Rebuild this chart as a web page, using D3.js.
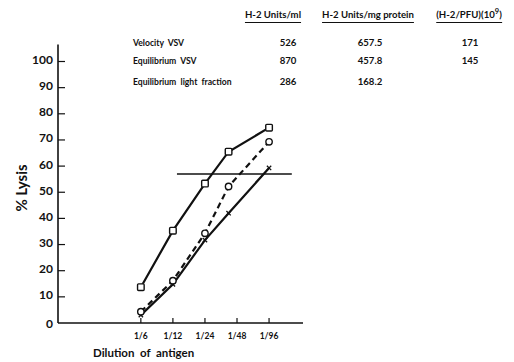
<!DOCTYPE html>
<html>
<head>
<meta charset="utf-8">
<script src="https://cdn.jsdelivr.net/npm/d3@7"></script>
<style>
  html, body { margin: 0; padding: 0; background: #fff; }
  svg { display: block; }
  text { font-family: Lato, "DejaVu Sans", sans-serif; font-weight: 700; fill: #111; }
</style>
</head>
<body>
<svg id="chart" width="514" height="362"></svg>
<script>
// Dilution denominators (antigen diluted 1/n)
const tickDilutions = [6, 12, 24, 48, 96];
const tickLabels = ["1/6", "1/12", "1/24", "1/48", "1/96"];
const pointDilutions = [6, 12, 24, 40, 96];

// % lysis for each preparation
const velocityVSV = [13.7, 35.3, 53.3, 65.5, 74.7];      // squares, solid
const equilibriumVSV = [4.3, 16.2, 34.3, 52.2, 69.3];    // circles, dashed
const lightFraction = [3.0, 14.8, 31.7, 42.0, 59.3];     // crosses, solid

const yTicks = [0, 10, 20, 30, 40, 50, 60, 70, 80, 90, 100];

// 50% lysis reference line (level, and the dilution span it covers)
const refLevel = 57;
const refSpan = [13.1, 157];

// Summary table
const tableHeaders = ["H-2 Units/ml", "H-2 Units/mg protein", "(H-2/PFU)(10"];
const tableRows = ["Velocity  VSV", "Equilibrium  VSV", "Equilibrium  light  fraction"];
const unitsPerMl = ["526", "870", "286"];
const unitsPerMg = ["657.5", "457.8", "168.2"];
const perPFU = ["171", "145", ""];

const svg = d3.select("#chart");

const x = d3.scaleLog().domain([1, 200]).range([58, 303]);
const y = d3.scaleLinear().domain([0, 100]).range([323, 61.5]);

// ---- table ----
const colCenters = [273, 368, 469];
const valCenters = [288, 370, 470];
const rowY = [46, 64, 85];

const hdr = svg.append("g");
tableHeaders.forEach((h, i) => {
  const t = hdr.append("text")
    .attr("x", colCenters[i]).attr("y", 18)
    .attr("text-anchor", "middle")
    .attr("font-size", 9.6)
    .text(h);
  if (i === 2) {
    t.append("tspan").attr("dy", -4).attr("font-size", 7.5).text("9");
    t.append("tspan").attr("dy", 4).text(")");
  }
  const bb = t.node().getBBox();
  hdr.append("line")
    .attr("x1", bb.x).attr("x2", bb.x + bb.width)
    .attr("y1", 22.5).attr("y2", 22.5)
    .attr("stroke", "#111").attr("stroke-width", 1);
});

tableRows.forEach((r, i) => {
  svg.append("text").attr("x", 133).attr("y", rowY[i])
    .attr("font-size", 8.6).attr("xml:space", "preserve").style("white-space", "pre").text(r);
  [unitsPerMl, unitsPerMg, perPFU].forEach((col, j) => {
    svg.append("text").attr("x", valCenters[j]).attr("y", rowY[i])
      .attr("text-anchor", "middle").attr("font-size", 9.6).text(col[i]);
  });
});

// ---- axes ----
const axG = svg.append("g").attr("stroke", "#111").attr("stroke-width", 1.6);
axG.append("line").attr("x1", x(1)).attr("x2", x(1)).attr("y1", y(0)).attr("y2", y(106.5));
axG.append("line").attr("x1", x(1)).attr("x2", x(200)).attr("y1", y(0)).attr("y2", y(0));

yTicks.filter(d => d > 0).forEach(d => {
  axG.append("line").attr("x1", x(1)).attr("x2", x(1) + 7)
    .attr("y1", y(d)).attr("y2", y(d)).attr("stroke-width", 1.2);
});
yTicks.forEach(d => {
  svg.append("text").attr("x", 53).attr("y", y(d) + (d === 0 ? 4.5 : 2.5))
    .attr("text-anchor", "end").attr("font-size", 12).text(d);
});

tickDilutions.forEach((d, i) => {
  axG.append("line").attr("x1", x(d)).attr("x2", x(d))
    .attr("y1", y(0)).attr("y2", y(0) - 5).attr("stroke-width", 1.2);
  svg.append("text").attr("x", x(d)).attr("y", 339)
    .attr("text-anchor", "middle").attr("font-size", 8.5).text(tickLabels[i]);
});

svg.append("text")
  .attr("transform", `translate(27,${188}) rotate(-90)`)
  .attr("text-anchor", "middle").attr("font-size", 15).text("% Lysis");

svg.append("text").attr("x", 93).attr("y", 357)
  .attr("font-size", 11.5).attr("xml:space", "preserve").style("white-space", "pre")
  .text("Dilution  of  antigen");

// ---- reference line ----
svg.append("line")
  .attr("x1", x(refSpan[0])).attr("x2", x(refSpan[1]))
  .attr("y1", y(refLevel)).attr("y2", y(refLevel))
  .attr("stroke", "#111").attr("stroke-width", 1.5);

// ---- series ----
const line = d3.line().x(d => x(d[0])).y(d => y(d[1]));
const pts = vals => vals.map((v, i) => [pointDilutions[i], v]);

svg.append("path").datum(pts(lightFraction)).attr("d", line)
  .attr("fill", "none").attr("stroke", "#111").attr("stroke-width", 2.2);
svg.append("path").datum(pts(equilibriumVSV)).attr("d", line)
  .attr("fill", "none").attr("stroke", "#111").attr("stroke-width", 2.2)
  .attr("stroke-dasharray", "6,4");
svg.append("path").datum(pts(velocityVSV)).attr("d", line)
  .attr("fill", "none").attr("stroke", "#111").attr("stroke-width", 2.2);

// crosses
svg.append("g").selectAll("path").data(pts(lightFraction)).join("path")
  .attr("transform", d => `translate(${x(d[0])},${y(d[1])})`)
  .attr("d", d3.symbol(d3.symbolX, 14))
  .attr("fill", "none").attr("stroke", "#111").attr("stroke-width", 1.3);

// circles
svg.append("g").selectAll("circle").data(pts(equilibriumVSV)).join("circle")
  .attr("cx", d => x(d[0])).attr("cy", d => y(d[1])).attr("r", 3.2)
  .attr("fill", "#fff").attr("stroke", "#111").attr("stroke-width", 1.4);

// squares
svg.append("g").selectAll("rect").data(pts(velocityVSV)).join("rect")
  .attr("x", d => x(d[0]) - 3.3).attr("y", d => y(d[1]) - 3.3)
  .attr("width", 6.6).attr("height", 6.6).attr("rx", 1)
  .attr("fill", "#fff").attr("stroke", "#111").attr("stroke-width", 1.4);
</script>
</body>
</html>
